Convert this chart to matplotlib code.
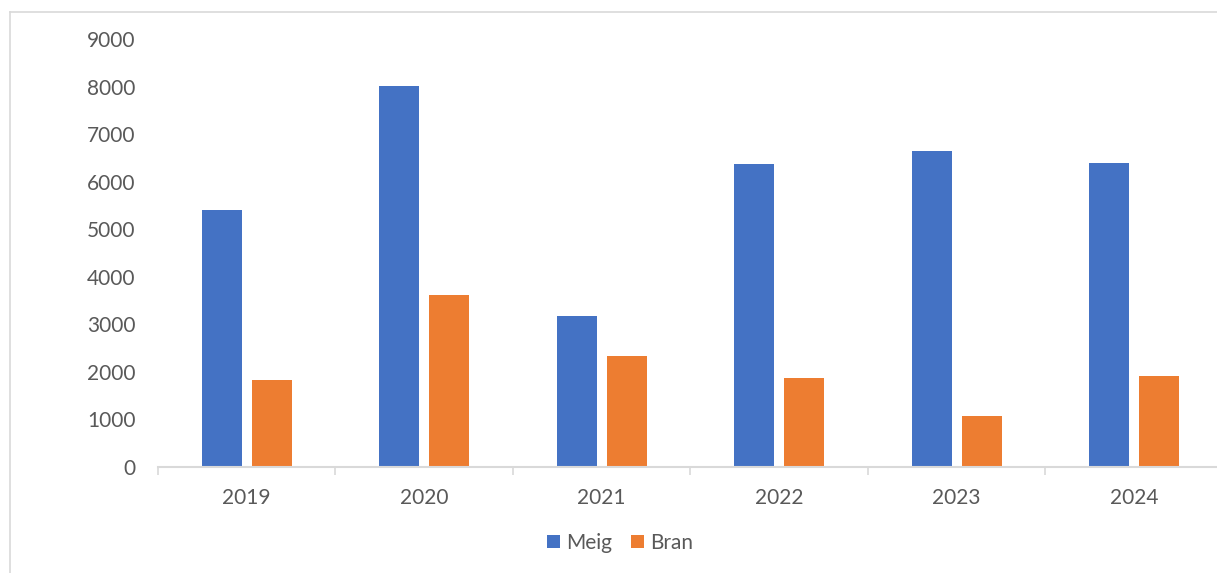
import matplotlib
matplotlib.use("Agg")
import matplotlib.pyplot as plt
from matplotlib.lines import Line2D
import numpy as np

categories = ["2019", "2020", "2021", "2022", "2023", "2024"]
meig = [5400, 8020, 3180, 6370, 6650, 6385]
bran = [1830, 3617, 2330, 1865, 1070, 1910]
series_names = ["Meig", "Bran"]
yticks = [0, 1000, 2000, 3000, 4000, 5000, 6000, 7000, 8000, 9000]

BLUE = "#4472C4"
ORANGE = "#ED7D31"
TXT = "#595959"
AX = "#D9D9D9"

plt.rcParams['font.family'] = ['Lato', 'DejaVu Sans']

W, H = 1217, 573
fig = plt.figure(figsize=(W / 100, H / 100), dpi=100)

# chart border
fig.add_artist(Line2D([10 / W, 10 / W], [0, 1 - 12 / H], transform=fig.transFigure,
                      color=AX, lw=1.2))
fig.add_artist(Line2D([10 / W, 1], [1 - 12 / H, 1 - 12 / H], transform=fig.transFigure,
                      color=AX, lw=1.2))

left, right, top, bottom = 158, 1223, 39, 467
ax = fig.add_axes([left / W, 1 - bottom / H, (right - left) / W, (bottom - top) / H])

x = np.arange(len(categories))
off = 0.141
bw = 0.225
ax.bar(x - off, meig, bw, color=BLUE, label=series_names[0], zorder=2)
ax.bar(x + off, bran, bw, color=ORANGE, label=series_names[1], zorder=2)

ax.set_xlim(-0.5, len(categories) - 0.5)
ax.set_ylim(0, 9000)
ax.set_yticks(yticks)
ax.set_yticklabels([str(v) for v in yticks])
ax.set_xticks(x)
ax.set_xticklabels(categories)
ax.set_xticks(np.arange(-0.5, len(categories)), minor=True)

for s in ["top", "right", "left"]:
    ax.spines[s].set_visible(False)
ax.spines["bottom"].set_color(AX)
ax.spines["bottom"].set_linewidth(1.5)
ax.spines["bottom"].set_zorder(3)

ax.tick_params(axis="y", length=0, pad=16, labelsize=15, labelcolor=TXT)
ax.tick_params(axis="x", which="major", length=0, pad=15, labelsize=15, labelcolor=TXT)
ax.tick_params(axis="x", which="minor", length=6, width=1.2, color=AX)

leg = fig.legend(loc="center", bbox_to_anchor=(620 / W, 1 - 543 / H), ncol=2, frameon=False,
                 fontsize=15, handlelength=0.62, handleheight=0.62, handletextpad=0.3,
                 columnspacing=0.9)
for t in leg.get_texts():
    t.set_color(TXT)

fig.savefig("out.png", dpi=100)
